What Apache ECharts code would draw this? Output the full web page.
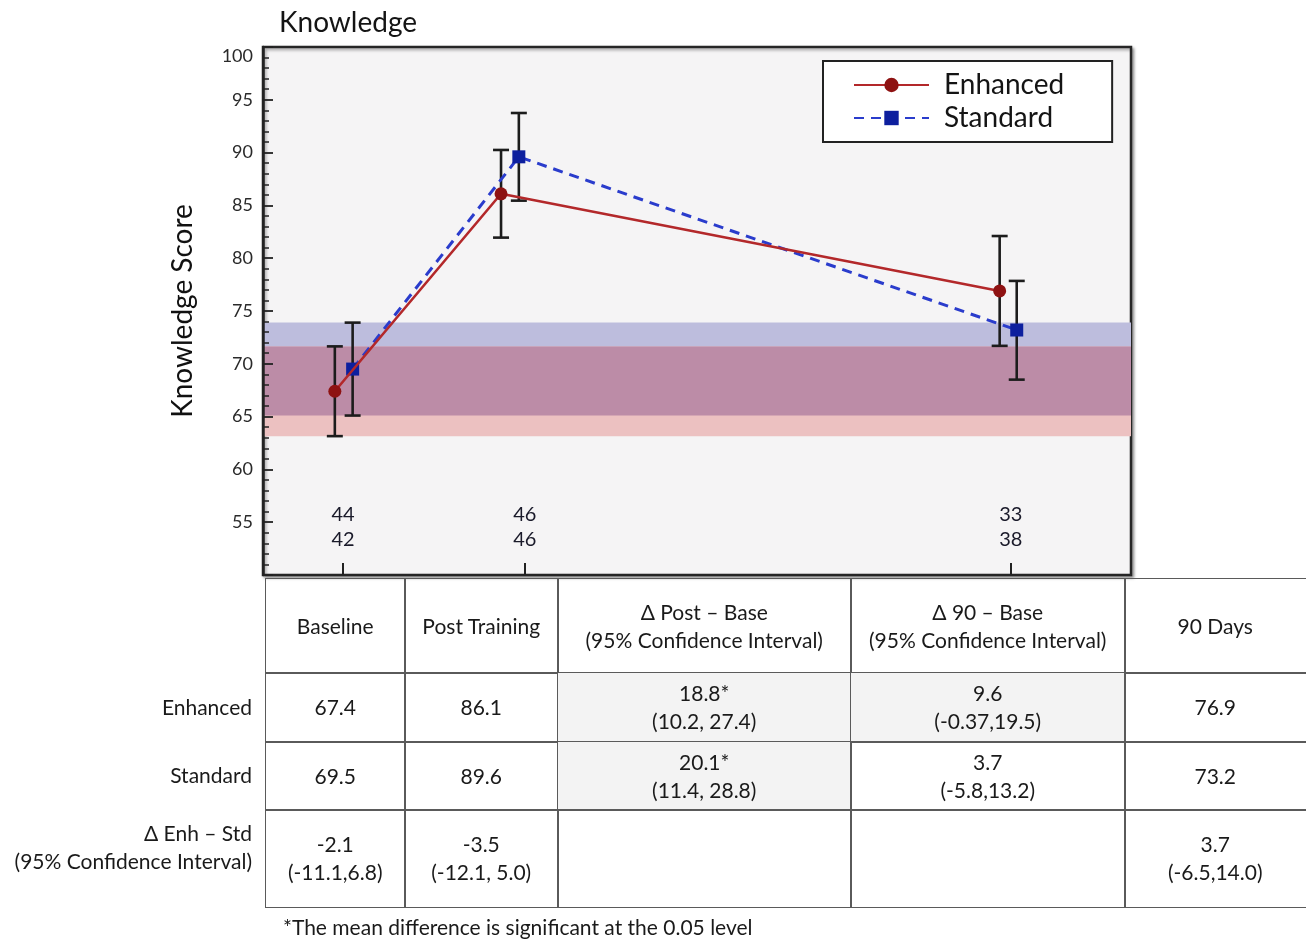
<!DOCTYPE html>
<html><head><meta charset="utf-8">
<script src="https://cdn.jsdelivr.net/npm/echarts@6/dist/echarts.min.js"></script>
<style>
body{margin:0;background:#fff;width:1306px;height:939px;overflow:hidden;position:relative;}
#chart{position:absolute;left:0;top:0;width:1306px;height:939px;}
.cell{position:absolute;box-sizing:border-box;border:1.5px solid #5a5a5a;display:flex;align-items:center;justify-content:center;text-align:center;white-space:pre-line;font-family:Lato,'Liberation Sans',sans-serif;font-size:21px;line-height:28px;color:#1a1a1a;}
.rlab{position:absolute;box-sizing:border-box;display:flex;align-items:center;justify-content:flex-end;text-align:right;white-space:pre-line;font-family:Lato,'Liberation Sans',sans-serif;font-size:21px;line-height:28px;color:#1a1a1a;padding-right:13px;}
#foot{position:absolute;left:283px;top:914px;font-family:Lato,'Liberation Sans',sans-serif;font-size:21px;color:#1a1a1a;}
</style></head>
<body>
<div id="chart"></div>
<div id="table"></div>
<div id="foot"></div>
<script>
// ---------- data ----------
const timepoints = ['Baseline', 'Post Training', '90 Days'];
const tickX = [0, 24.5, 90];              // visit position on the time axis
const enhancedX = [-1.1, 21.3, 88.5];
const standardX = [1.3, 23.7, 90.8];
const enhancedMean = [67.4, 86.1, 76.9];
const standardMean = [69.5, 89.6, 73.2];
const enhancedLow  = [63.15, 81.95, 71.7];
const enhancedHigh = [71.65, 90.25, 82.1];
const standardLow  = [65.1, 85.45, 68.5];
const standardHigh = [73.9, 93.75, 77.85];
const enhancedN = [44, 46, 33];
const standardN = [42, 46, 38];
const yMin = 50, yMax = 100, yStep = 5;

const headerCols = ['Baseline', 'Post Training', 'Δ Post – Base\n(95% Confidence Interval)', 'Δ 90 – Base\n(95% Confidence Interval)', '90 Days'];
const rowLabels = ['Enhanced', 'Standard', 'Δ  Enh – Std\n(95% Confidence Interval)'];
const enhancedRow = ['67.4', '86.1', '18.8*\n(10.2, 27.4)', '9.6\n(-0.37,19.5)', '76.9'];
const standardRow = ['69.5', '89.6', '20.1*\n(11.4, 28.8)', '3.7\n(-5.8,13.2)', '73.2'];
const diffRow = ['-2.1\n(-11.1,6.8)', '-3.5\n(-12.1, 5.0)', '', '', '3.7\n(-6.5,14.0)'];
const shadedCells = [[0, 2], [0, 3], [1, 2]];
const footnote = '*The mean difference is significant at the 0.05 level';

// ---------- bands (baseline CIs) ----------
const redBand = [enhancedLow[0], enhancedHigh[0]];
const blueBand = [standardLow[0], standardHigh[0]];
const overlap = [Math.max(redBand[0], blueBand[0]), Math.min(redBand[1], blueBand[1])];
const bandData = [
  [blueBand[0], blueBand[1], 0],
  [redBand[0], redBand[1], 1],
  [overlap[0], overlap[1], 2]
];
const bandColors = ['#bdbddd', '#ecc1c1', '#bc8ca7'];

const FONT = 'Lato, "Liberation Sans", sans-serif';
const chart = echarts.init(document.getElementById('chart'), null, {renderer: 'canvas'});

function errBar(params, api) {
  const x = api.value(0), lo = api.value(1), hi = api.value(2);
  const pTop = api.coord([x, hi]), pBot = api.coord([x, lo]);
  const hw = 8;
  const st = {stroke: '#1c1c1c', lineWidth: 2.6};
  return {type: 'group', children: [
    {type: 'line', shape: {x1: pTop[0], y1: pTop[1], x2: pBot[0], y2: pBot[1]}, style: st},
    {type: 'line', shape: {x1: pTop[0] - hw, y1: pTop[1], x2: pTop[0] + hw, y2: pTop[1]}, style: st},
    {type: 'line', shape: {x1: pBot[0] - hw, y1: pBot[1], x2: pBot[0] + hw, y2: pBot[1]}, style: st}
  ]};
}

const option = {
  animation: false,
  title: {text: 'Knowledge', left: 274, top: 4, textStyle: {fontFamily: FONT, fontSize: 28, fontWeight: 'normal', color: '#141414'}},
  grid: {left: 263, top: 47, right: 175, bottom: 364, show: true, backgroundColor: '#f5f4f5',
         borderColor: '#262626', borderWidth: 2.5, shadowColor: 'rgba(0,0,0,0.35)', shadowBlur: 3, shadowOffsetX: 2, shadowOffsetY: 2},
  legend: {
    orient: 'vertical', left: 823, top: 61,
    backgroundColor: '#ffffff', borderColor: '#222', borderWidth: 2,
    padding: [10, 48, 10, 30], itemGap: 5, itemWidth: 75, itemHeight: 18,
    textStyle: {fontFamily: FONT, fontSize: 28, lineHeight: 28, color: '#141414', padding: [0, 0, 0, 10]},
    data: ['Enhanced', 'Standard']
  },
  xAxis: {
    type: 'value', min: -10.78, max: 106.2,
    axisLine: {show: false},
    splitLine: {show: false},
    axisTick: {show: true, inside: true, length: 12, customValues: tickX, lineStyle: {color: '#222', width: 2}},
    axisLabel: {show: true, inside: true, margin: 23, customValues: tickX,
      fontFamily: FONT, fontSize: 20, lineHeight: 25, color: '#1a1a2a',
      formatter: function (v) {
        let i = -1, best = 1e9;
        tickX.forEach((t, k) => { if (Math.abs(t - v) < best) { best = Math.abs(t - v); i = k; } });
        return enhancedN[i] + '\n' + standardN[i];
      }}
  },
  yAxis: {
    type: 'value', min: yMin, max: yMax, interval: yStep,
    name: 'Knowledge Score', nameLocation: 'middle', nameGap: 66,
    nameTextStyle: {fontFamily: FONT, fontSize: 28, color: '#111'},
    axisLine: {show: true, onZero: false, lineStyle: {color: '#222', width: 2.5}},
    axisTick: {show: true, inside: true, length: 10, lineStyle: {color: '#222', width: 1.8}},
    minorTick: {show: true, splitNumber: 5, length: 6, lineStyle: {color: '#222', width: 1.5}},
    splitLine: {show: false},
    axisLabel: {fontFamily: FONT, fontSize: 18, color: '#2a2a2a', margin: 10,
      verticalAlignMaxLabel: 'top',
      formatter: v => (v === yMin ? '' : String(v))}
  },
  series: [
    {
      type: 'custom', name: 'bands', z: 0, silent: true,
      data: bandData,
      renderItem: function (params, api) {
        const cs = params.coordSys;
        const yTop = api.coord([0, api.value(1)])[1];
        const yBot = api.coord([0, api.value(0)])[1];
        return {type: 'rect', shape: {x: cs.x, y: yTop, width: cs.width, height: yBot - yTop},
                style: {fill: bandColors[api.value(2)]}};
      }
    },
    {
      type: 'custom', name: 'errE', z: 1, silent: true,
      data: enhancedX.map((x, i) => [x, enhancedLow[i], enhancedHigh[i]]),
      renderItem: errBar
    },
    {
      type: 'custom', name: 'errS', z: 1, silent: true,
      data: standardX.map((x, i) => [x, standardLow[i], standardHigh[i]]),
      renderItem: errBar
    },
    {
      type: 'line', name: 'Enhanced', z: 3,
      data: enhancedX.map((x, i) => [x, enhancedMean[i]]),
      symbol: 'circle', symbolSize: 13,
      lineStyle: {color: '#b3282a', width: 2.6},
      itemStyle: {color: '#8e1212', borderWidth: 0}
    },
    {
      type: 'line', name: 'Standard', z: 2,
      data: standardX.map((x, i) => [x, standardMean[i]]),
      symbol: 'rect', symbolSize: 13,
      lineStyle: {color: '#2a3ccc', width: 3, type: [10, 7]},
      itemStyle: {color: '#0d1f9e', borderWidth: 0}
    }
  ]
};
chart.setOption(option);

// ---------- table ----------
const colEdges = [265, 404, 557, 850, 1124, 1305];
const rowEdges = [578, 672, 741, 809, 906];
const tbl = document.getElementById('table');
function addCell(text, c, r, shaded) {
  const d = document.createElement('div');
  d.className = 'cell';
  d.style.left = colEdges[c] + 'px';
  d.style.top = rowEdges[r] + 'px';
  d.style.width = (colEdges[c + 1] - colEdges[c] + 1.5) + 'px';
  d.style.height = (rowEdges[r + 1] - rowEdges[r] + 1.5) + 'px';
  if (shaded) d.style.background = '#f3f3f3';
  d.textContent = text;
  tbl.appendChild(d);
}
headerCols.forEach((t, c) => addCell(t, c, 0, false));
[enhancedRow, standardRow, diffRow].forEach((row, r) => {
  row.forEach((t, c) => addCell(t, c, r + 1, shadedCells.some(s => s[0] === r && s[1] === c)));
  const l = document.createElement('div');
  l.className = 'rlab';
  l.style.left = '0px';
  l.style.width = colEdges[0] + 'px';
  l.style.top = rowEdges[r + 1] + 'px';
  l.style.height = (rowEdges[r + 2] - rowEdges[r + 1]) + 'px';
  if (r === 2) l.style.paddingBottom = '22px';
  l.textContent = rowLabels[r];
  tbl.appendChild(l);
});
document.getElementById('foot').textContent = footnote;
</script>
</body></html>
